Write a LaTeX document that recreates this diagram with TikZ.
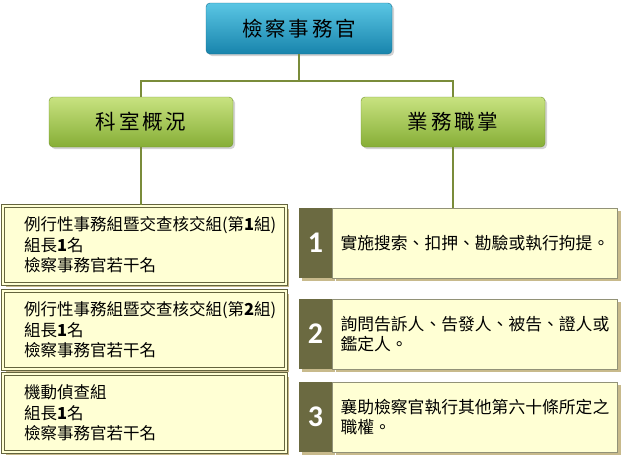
\documentclass[tikz,border=0pt]{standalone}
\usepackage{fontspec}
\setmainfont{Noto Sans CJK TC}
\newfontfamily\headfont[LetterSpace=14]{Noto Sans CJK TC}
\newfontfamily\numfont{Carlito}
\usetikzlibrary{positioning,shadows}

\definecolor{blueTop}{RGB}{90,198,228}
\definecolor{blueBot}{RGB}{24,132,172}
\definecolor{greenTop}{RGB}{200,226,128}
\definecolor{greenBot}{RGB}{134,174,54}
\definecolor{paper}{RGB}{255,255,212}
\definecolor{edgecol}{RGB}{100,100,62}
\definecolor{stripcol}{RGB}{107,106,65}
\definecolor{tancol}{RGB}{200,186,140}
\definecolor{linkcol}{RGB}{122,140,58}

\tikzset{
  headbox/.style={rounded corners=4pt, minimum width=186pt, minimum height=51pt,
    top color=blueTop, bottom color=blueBot, draw=blueBot!85!black, line width=0.4pt,
    drop shadow={shadow xshift=2pt, shadow yshift=-2pt, opacity=0.35},
    font=\headfont\fontsize{20.5}{24}\selectfont},
  groupbox/.style={headbox, minimum width=184pt, minimum height=50pt,
    top color=greenTop, bottom color=greenBot, draw=greenBot!85!black},
  teambox/.style={draw=edgecol, line width=1.1pt, double=paper, double distance=1.5pt,
    fill=paper, minimum width=283pt, minimum height=78pt, inner xsep=21pt,
    text width=241pt, align=left,
    drop shadow={shadow xshift=3pt, shadow yshift=-3pt, fill=tancol, opacity=1},
    font=\fontsize{16.5}{20.5}\selectfont},
  numbox/.style={fill=stripcol, text=white, minimum width=33pt, minimum height=70pt,
    inner sep=0pt,
    drop shadow={shadow xshift=3pt, shadow yshift=-3pt, fill=tancol, opacity=1},
    font=\numfont\bfseries\fontsize{30}{32}\selectfont},
  dutybox/.style={fill=paper, draw=edgecol!70, line width=0.6pt, minimum width=285pt,
    minimum height=70pt, inner xsep=8pt, text width=269pt, align=left,
    drop shadow={shadow xshift=3pt, shadow yshift=-3pt, fill=tancol, opacity=1},
    font=\fontsize{16.8}{20}\selectfont},
  link/.style={draw=linkcol, line width=1.5pt}
}

\begin{document}
\begin{tikzpicture}[x=1pt,y=-1pt]
        \useasboundingbox (0,0) rectangle (621,458);

        % the head and the two groups
        \node[headbox] (officer) at (299,28.5) {檢察事務官};
        \node[groupbox] (units) at (141,122) {科室概況};
        \node[groupbox] (duties) at (453,122) {業務職掌};

        % the teams on the left
        \node[teambox] (team1) at (144.5,245) {例行性事務組暨交查核交組(第\textbf{1}組)\\組長\textbf{1}名\\檢察事務官若干名};
        \node[teambox] (team2) at (144.5,330) {例行性事務組暨交查核交組(第\textbf{2}組)\\組長\textbf{1}名\\檢察事務官若干名};
        \node[teambox] (team3) at (144.5,413) {機動偵查組\\組長\textbf{1}名\\檢察事務官若干名};

        % the duties on the right (numbers first, the texts next to them)
        \node[numbox] (n1) at (315.5,243) {1};
        \node[numbox] (n2) at (315.5,334) {2};
        \node[numbox] (n3) at (315.5,417) {3};
        \node[dutybox, right=0pt of n1] (d1) {實施搜索、扣押、勘驗或執行拘提。};
        \node[dutybox, right=0pt of n2] (d2) {詢問告訴人、告發人、被告、證人或\\鑑定人。};
        \node[dutybox, right=0pt of n3] (d3) {襄助檢察官執行其他第六十條所定之\\職權。};

        % draw the lines
        \coordinate (fork) at (299,81);
        \draw[link] (officer.south) -- (fork);
        \draw[link] (units.north) |- (fork) -| (duties.north);
        \draw[link] (units.south) -- (units.south |- team1.north);
        \draw[link] (duties.south) -- (duties.south |- d1.north);

    \end{tikzpicture}
\end{document}
